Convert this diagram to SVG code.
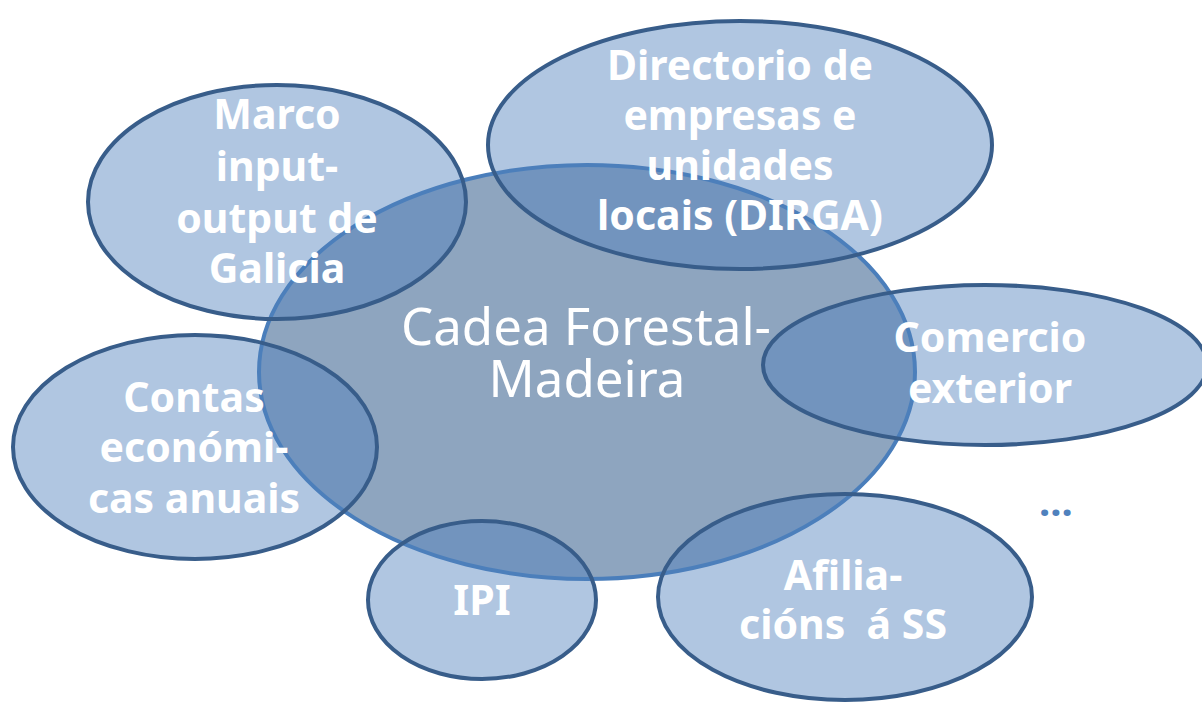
<svg xmlns="http://www.w3.org/2000/svg" width="1202" height="704" viewBox="0 0 1202 704">
<style>
.main{fill:#8EA5BF;stroke:#4A7EBB;stroke-width:4}
.sat{fill:#4F81BD;fill-opacity:0.45;stroke:#385D8A;stroke-width:4}
.lb{font-family:"Noto Sans","Open Sans",sans-serif;font-weight:bold;font-size:41px;fill:#FFFFFF;text-anchor:middle;white-space:pre}
.ct{font-family:"Noto Sans","Open Sans",sans-serif;font-size:51px;fill:#FFFFFF;text-anchor:middle}
.dots{font-family:"Noto Sans","Open Sans",sans-serif;font-weight:bold;font-size:40px;fill:#4F81BD}
</style>
<rect width="1202" height="704" fill="#FFFFFF"/>
<g id="center">
<ellipse class="main" cx="587" cy="372" rx="328" ry="207"/>
</g>
<g id="marco">
<ellipse class="sat" cx="277" cy="202" rx="189" ry="117"/>
<text class="lb" x="277" y="129">Marco</text>
<text class="lb" x="277" y="181">input-</text>
<text class="lb" x="277" y="233">output de</text>
<text class="lb" x="277" y="283">Galicia</text>
</g>
<g id="directorio">
<ellipse class="sat" cx="740" cy="145" rx="252" ry="124"/>
<text class="lb" x="740" y="80">Directorio de</text>
<text class="lb" x="740" y="130">empresas e</text>
<text class="lb" x="740" y="180">unidades</text>
<text class="lb" x="740" y="230">locais (DIRGA)</text>
</g>
<g id="comercio">
<ellipse class="sat" cx="985" cy="365" rx="222" ry="80"/>
<text class="lb" x="990" y="352">Comercio</text>
<text class="lb" x="990" y="403">exterior</text>
</g>
<g id="contas">
<ellipse class="sat" cx="195" cy="447" rx="182" ry="112"/>
<text class="lb" x="194" y="412">Contas</text>
<text class="lb" x="194" y="462">económi-</text>
<text class="lb" x="194" y="513">cas anuais</text>
</g>
<g id="ipi">
<ellipse class="sat" cx="482" cy="600" rx="114" ry="79"/>
<text class="lb" x="482" y="615">IPI</text>
</g>
<g id="afiliacions">
<ellipse class="sat" cx="845" cy="597" rx="187" ry="103"/>
<text class="lb" x="843" y="590">Afilia-</text>
<text class="lb" x="843" y="639">cións  á SS</text>
</g>
<g id="center-label">
<text class="ct" x="586" y="345">Cadea Forestal-</text>
<text class="ct" x="587" y="397">Madeira</text>
</g>
<g id="more">
<text class="dots" x="1039" y="516">...</text>
</g>
<g id="connectors"/>
</svg>
